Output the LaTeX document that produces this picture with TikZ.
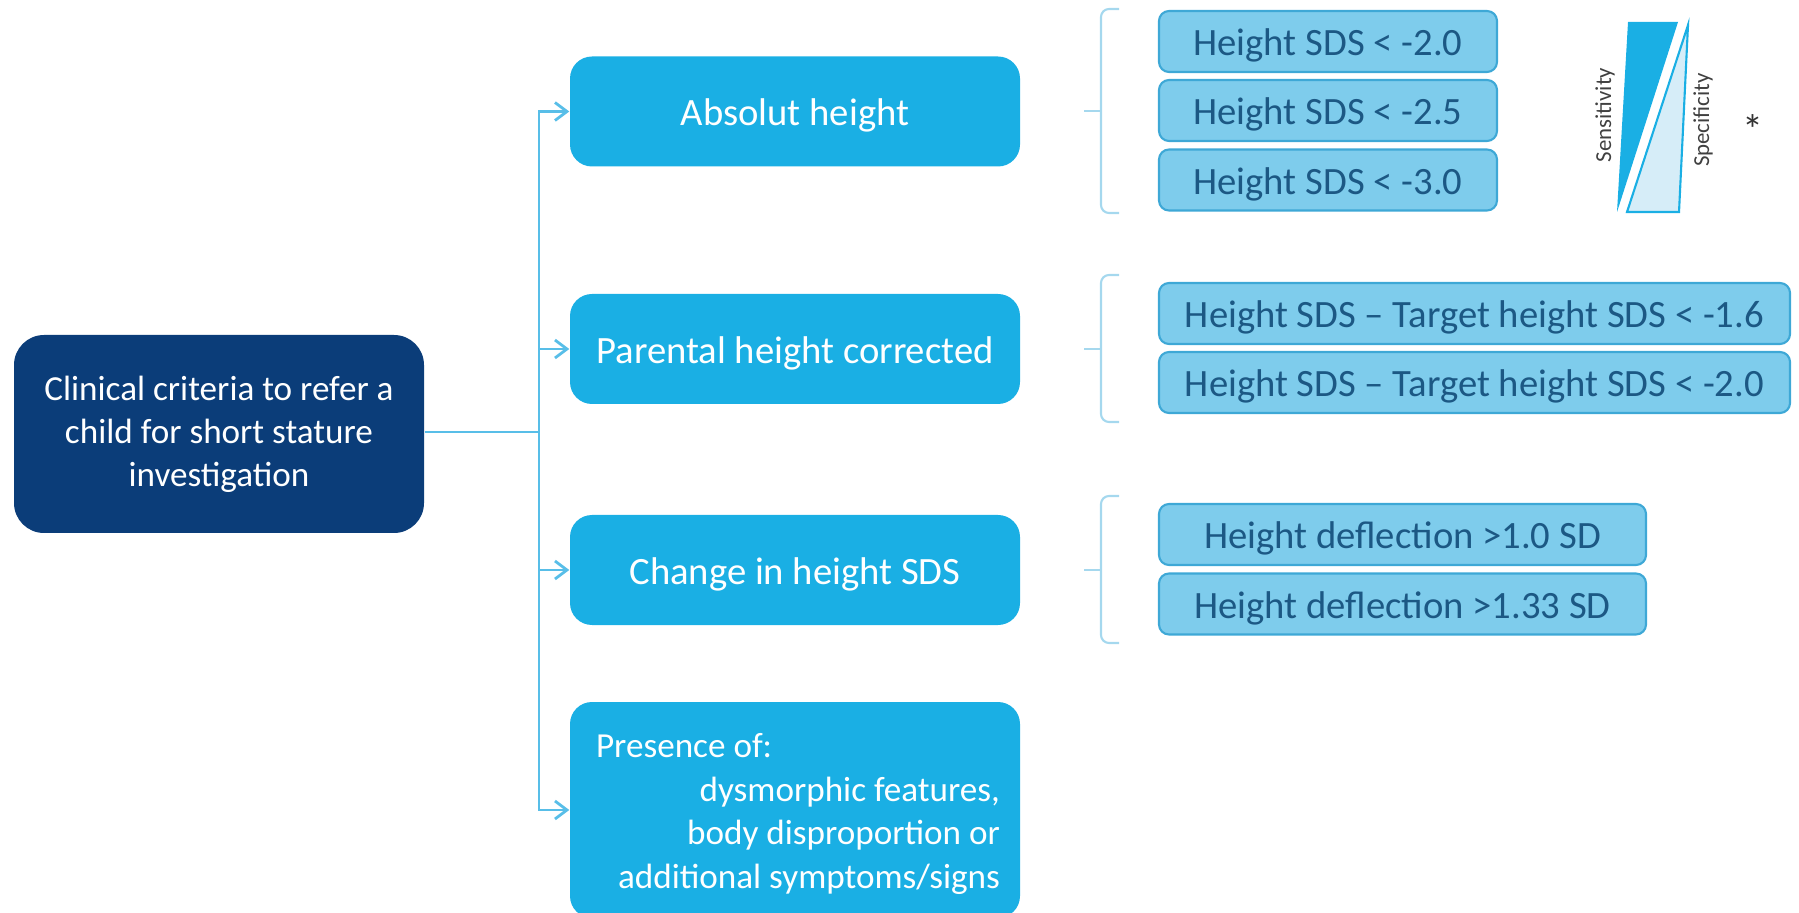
\documentclass[tikz,border=0pt]{standalone}
\usepackage{fontspec}
\setmainfont{Carlito}
\usetikzlibrary{arrows.meta}
\definecolor{navy}{RGB}{11,61,121}
\definecolor{critblue}{RGB}{26,175,228}
\definecolor{subfill}{RGB}{126,204,236}
\definecolor{subline}{RGB}{62,168,214}
\definecolor{subtext}{RGB}{28,88,132}
\definecolor{linkc}{RGB}{88,190,232}
\definecolor{brkc}{RGB}{165,216,238}
\definecolor{palec}{RGB}{214,237,248}
\begin{document}
\begin{tikzpicture}[main/.style={fill=navy, text=white, rounded corners=0.3cm, minimum width=4.1cm, minimum height=1.98cm, align=center, font=\fontsize{10}{12.2}\selectfont},
		crit/.style={fill=critblue, text=white, rounded corners=0.22cm, minimum width=4.5cm, minimum height=1.1cm, text height=0.9em, text depth=0.1em, font=\fontsize{11}{13}\selectfont},
		sub/.style={draw=subline, fill=subfill, text=subtext, rounded corners=0.1cm, minimum height=0.61cm, text height=0.9em, text depth=0.1em, line width=0.6pt, font=\fontsize{11}{13}\selectfont},
		link/.style={draw=linkc, line width=0.8pt},
		arr/.style={link, -{Straight Barb[length=1.2mm, width=1.8mm]}},
		brk/.style={draw=brkc, line width=0.6pt, rounded corners=0.8mm},
		lbl/.style={rotate=90, text=black!75, font=\fontsize{6.5}{7}\selectfont}]
			\useasboundingbox (0,0) rectangle (17.99,-9.13);

			\node[main] (main) at (2.19, -4.34) {Clinical criteria to refer a\\child for short stature\\investigation};
			\node[crit] (absh) at (7.95, -1.115) {Absolut height};
			\node[crit] (parh) at (7.95, -3.49) {Parental height corrected};
			\node[crit] (chg) at (7.95, -5.70) {Change in height SDS};
			\node[crit, minimum height=2.16cm, text height=, text depth=, font=\fontsize{10}{12.4}\selectfont] (pres) at (7.95, -8.10)
				{\hspace*{2.8mm}\begin{tabular}{@{}r@{}}\multicolumn{1}{@{}l@{}}{\rule{0pt}{3.9mm}\hspace*{-2.2mm}Presence of:}\\ dysmorphic features,\\ body disproportion or\\ additional symptoms/signs\end{tabular}};

			\node[sub, minimum width=3.38cm] (a1) at (13.28, -0.415) {Height SDS < -2.0};
			\node[sub, minimum width=3.38cm] (a2) at (13.28, -1.105) {Height SDS < -2.5};
			\node[sub, minimum width=3.38cm] (a3) at (13.28, -1.80) {Height SDS < -3.0};
			\node[sub, minimum width=6.31cm] (p1) at (14.745, -3.135) {Height SDS – Target height SDS < -1.6};
			\node[sub, minimum width=6.31cm] (p2) at (14.745, -3.825) {Height SDS – Target height SDS < -2.0};
			\node[sub, minimum width=4.87cm] (c1) at (14.025, -5.345) {Height deflection >1.0 SD};
			\node[sub, minimum width=4.87cm] (c2) at (14.025, -6.04) {Height deflection >1.33 SD};

			\coordinate (j) at (5.39, -4.32);
			\draw[link] (main.east |- j) -- (j);
			\draw[arr] (j) |- (absh);
			\draw[arr] (j) |- (parh);
			\draw[arr] (j) |- (chg);
			\draw[arr] (j) |- (pres);

			% brackets
			\draw[brk] (11.19, -0.09) -- (11.01, -0.09) -- (11.01, -2.13) -- (11.19, -2.13);
			\draw[brk] (10.84, -1.11) -- (11.01, -1.11);
			\draw[brk] (11.19, -2.75) -- (11.01, -2.75) -- (11.01, -4.22) -- (11.19, -4.22);
			\draw[brk] (10.84, -3.49) -- (11.01, -3.49);
			\draw[brk] (11.19, -4.96) -- (11.01, -4.96) -- (11.01, -6.43) -- (11.19, -6.43);
			\draw[brk] (10.84, -5.70) -- (11.01, -5.70);

			% sensitivity / specificity wedge
			\fill[critblue] (16.28, -0.22) -- (16.78, -0.22) -- (16.17, -2.12) -- cycle;
			\draw[draw=critblue, fill=palec, line width=0.6pt] (16.88, -0.25) -- (16.79, -2.12) -- (16.27, -2.12) -- cycle;
			\node[lbl] (sens) at (16.05, -1.15) {Sensitivity};
			\node[lbl] (spec) at (17.03, -1.20) {Specificity};
			\node[font=\fontsize{12}{13}\selectfont, text=black!80] (star) at (17.53, -1.30) {*};
		\end{tikzpicture}
\end{document}
